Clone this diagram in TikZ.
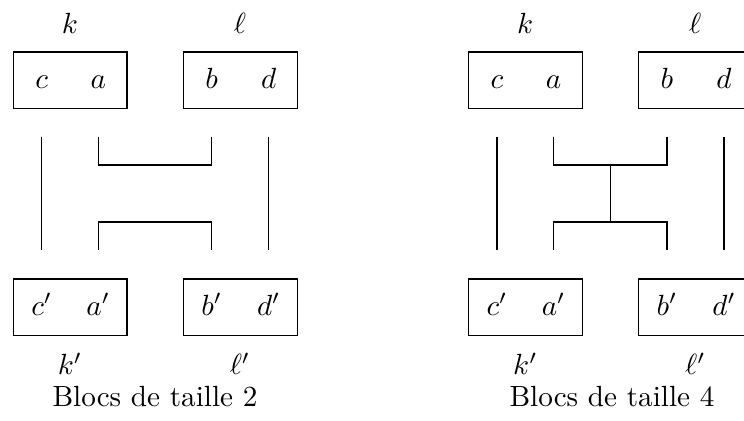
\documentclass[tikz,border=0pt]{standalone}
\begin{document}
\begin{tikzpicture}[x=0.3425pt,y=-0.3425pt,
  blk/.style={draw, line width=0.4pt, minimum width=38.94pt, minimum height=19.42pt, inner sep=0pt},
  sym/.style={anchor=base, inner sep=0pt},
  wire/.style={line width=0.4pt}]
\useasboundingbox (0,0) rectangle (744,421);

% ---- Blocs de taille 2 ----
\node[blk] (L-kb)  at (70.2,80.3)  {};
\node[blk] (L-lb)  at (240.3,80.3) {};
\node[blk] (L-kpb) at (70.2,307.3) {};
\node[blk] (L-lpb) at (240.3,307.3) {};
\node[sym] (L-c)  at (41.7,88.5)  {$c$};
\node[sym] (L-a)  at (98.3,88.5)  {$a$};
\node[sym] (L-b)  at (211.7,88.5) {$b$};
\node[sym] (L-d)  at (268.7,88.5) {$d$};
\node[sym] (L-cp) at (41.7,315.5)  {$c'$};
\node[sym] (L-ap) at (98.3,315.5)  {$a'$};
\node[sym] (L-bp) at (211.7,315.5) {$b'$};
\node[sym] (L-dp) at (268.7,315.5) {$d'$};
\node[sym] (L-k)  at (70,33.5)  {$k$};
\node[sym] (L-l)  at (240,33.5) {$\ell$};
\node[sym] (L-kp) at (70,375)   {$k'$};
\node[sym] (L-lp) at (240,375)  {$\ell'$};
\node[sym] (L-cap) at (155,407) {Blocs de taille 2};

\coordinate (L-ct) at (41.7,137);   \coordinate (L-cb) at (41.7,250);
\coordinate (L-at) at (98.3,137);   \coordinate (L-ab) at (98.3,250);
\coordinate (L-bt) at (211.7,137);  \coordinate (L-bb) at (211.7,250);
\coordinate (L-dt) at (268.7,137);  \coordinate (L-db) at (268.7,250);
\draw[wire] (L-ct) -- (L-cb);
\draw[wire] (L-dt) -- (L-db);
\draw[wire] (L-at) -- ++(0,28) -| (L-bt);
\draw[wire] (L-ab) -- ++(0,-28) -| (L-bb);

% ---- Blocs de taille 4 ----
\node[blk] (R-kb)  at (525.5,80.3)  {};
\node[blk] (R-lb)  at (695.6,80.3)  {};
\node[blk] (R-kpb) at (525.5,307.3) {};
\node[blk] (R-lpb) at (695.6,307.3) {};
\node[sym] (R-c)  at (497,88.5)   {$c$};
\node[sym] (R-a)  at (553.6,88.5) {$a$};
\node[sym] (R-b)  at (667,88.5)   {$b$};
\node[sym] (R-d)  at (724,88.5)   {$d$};
\node[sym] (R-cp) at (497,315.5)   {$c'$};
\node[sym] (R-ap) at (553.6,315.5) {$a'$};
\node[sym] (R-bp) at (667,315.5)   {$b'$};
\node[sym] (R-dp) at (724,315.5)   {$d'$};
\node[sym] (R-k)  at (525.3,33.5) {$k$};
\node[sym] (R-l)  at (695.3,33.5) {$\ell$};
\node[sym] (R-kp) at (525.3,375)  {$k'$};
\node[sym] (R-lp) at (695.3,375)  {$\ell'$};
\node[sym] (R-cap) at (612,407) {Blocs de taille 4};

\coordinate (R-ct) at (497,137);    \coordinate (R-cb) at (497,250);
\coordinate (R-at) at (553.6,137);  \coordinate (R-ab) at (553.6,250);
\coordinate (R-bt) at (667,137);    \coordinate (R-bb) at (667,250);
\coordinate (R-dt) at (724,137);    \coordinate (R-db) at (724,250);
\coordinate (R-up) at (610.3,165);  \coordinate (R-lo) at (610.3,222);
\draw[wire] (R-ct) -- (R-cb);
\draw[wire] (R-dt) -- (R-db);
\draw[wire] (R-at) -- ++(0,28) -| (R-bt);
\draw[wire] (R-ab) -- ++(0,-28) -| (R-bb);
\draw[wire] (R-up) -- (R-lo);
\end{tikzpicture}
\end{document}
